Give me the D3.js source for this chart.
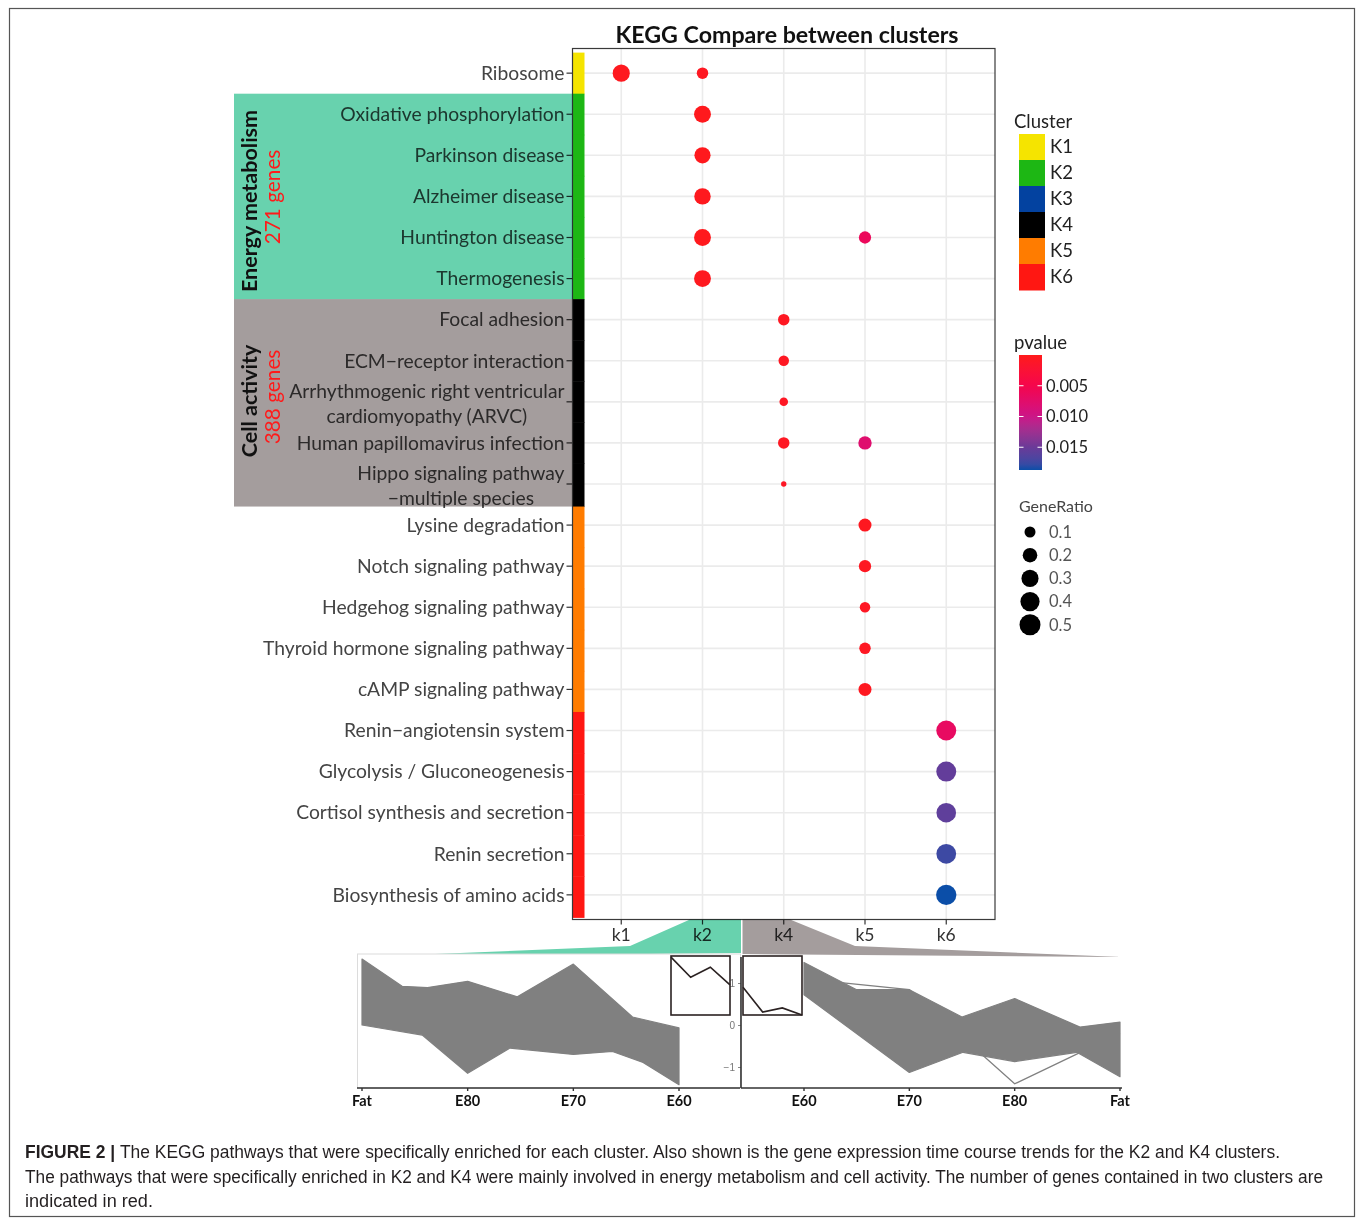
<!DOCTYPE html>
<html>
<head>
<meta charset="utf-8">
<script src="https://cdn.jsdelivr.net/npm/d3@7"></script>
<style>
  body { margin: 0; background: #fff; }
  text { font-family: Lato, "Open Sans", sans-serif; }
  .blend { mix-blend-mode: multiply; }
</style>
</head>
<body>
<svg id="fig" width="1357" height="1219"></svg>
<script>
// ---- data ----
const pathways = [
  "Ribosome",
  "Oxidative phosphorylation",
  "Parkinson disease",
  "Alzheimer disease",
  "Huntington disease",
  "Thermogenesis",
  "Focal adhesion",
  "ECM\u2212receptor interaction",
  "Arrhythmogenic right ventricular\ncardiomyopathy (ARVC)",
  "Human papillomavirus infection",
  "Hippo signaling pathway\n\u2212multiple species",
  "Lysine degradation",
  "Notch signaling pathway",
  "Hedgehog signaling pathway",
  "Thyroid hormone signaling pathway",
  "cAMP signaling pathway",
  "Renin\u2212angiotensin system",
  "Glycolysis / Gluconeogenesis",
  "Cortisol synthesis and secretion",
  "Renin secretion",
  "Biosynthesis of amino acids"
];
const pathwayCluster = ["K1","K2","K2","K2","K2","K2","K4","K4","K4","K4","K4",
                        "K5","K5","K5","K5","K5","K6","K6","K6","K6","K6"];
const clusterNames = ["K1","K2","K3","K4","K5","K6"];
const clusterColors = ["#f5e400","#1db714","#0342a0","#000000","#ff7c00","#ff1712"];
const xCategories = ["k1","k2","k4","k5","k6"];

const dotPathway = [0,0,1,2,3,4,4,5,6,7,8,9,9,10,11,12,13,14,15,16,17,18,19,20];
const dotCluster = ["k1","k2","k2","k2","k2","k2","k5","k2","k4","k4","k4","k4","k5","k4",
                    "k5","k5","k5","k5","k5","k6","k6","k6","k6","k6"];
const dotGeneRatio = [0.30,0.11,0.29,0.26,0.27,0.29,0.13,0.29,0.11,0.09,0.06,0.11,0.16,0.041,
                      0.15,0.13,0.09,0.11,0.15,0.44,0.44,0.42,0.43,0.46];
const dotPvalue = [0.0004,0.0006,0.0002,0.0002,0.0003,0.0002,0.0062,0.0004,0.0006,0.0007,0.0008,0.0007,0.0078,0.0009,
                   0.0005,0.0006,0.0008,0.0007,0.0005,0.0067,0.0155,0.0157,0.0175,0.0187];

const pStops = [0, 0.005, 0.010, 0.015, 0.0187];
const pColors = ["#ff1a1a","#f5054c","#cc1488","#6a3a98","#0b4ea8"];
const pvalueBreaks = [0.005, 0.010, 0.015];
const geneRatioBreaks = [0.1, 0.2, 0.3, 0.4, 0.5];

const groupNames = ["Energy metabolism", "Cell activity"];
const groupGenes = ["271 genes", "388 genes"];
const groupRows = [[1, 5], [6, 10]];

// expression trends (envelope of the line bundle: [time index, z-score])
const k2Times = ["Fat","E80","E70","E60"];
const k2Top = [[0,1.57],[0.38,0.92],[0.62,0.89],[1,1.04],[1.47,0.67],[2,1.45],[2.56,0.19],[3,-0.07]];
const k2Bottom = [[0,0.0],[0.57,-0.24],[1,-1.15],[1.4,-0.55],[2,-0.70],[2.37,-0.63],[2.66,-0.89],[3,-1.42]];
const k2Profile = [0.98, 0.64, 0.81, 0.51];

const k4Times = ["E60","E70","E80","Fat"];
const k4Top = [[0,1.49],[0.5,0.84],[1,0.84],[1.5,0.19],[2,0.63],[2.62,-0.05],[3,0.07]];
const k4Bottom = [[0,0.72],[1,-1.13],[1.51,-0.65],[2,-0.87],[2.59,-0.65],[3,-1.23]];
const k4Outliers = [[1.1, 0.84, -1.4, -0.2]];
const k4Profile = [0.47, 0.05, 0.12, 0.0];

const captionLines = [
  ["FIGURE 2 | ", "The KEGG pathways that were specifically enriched for each cluster. Also shown is the gene expression time course trends for the K2 and K4 clusters."],
  ["", "The pathways that were specifically enriched in K2 and K4 were mainly involved in energy metabolism and cell activity. The number of genes contained in two clusters are"],
  ["", "indicated in red."]
];

// ---- layout ----
const svg = d3.select("#fig");
const panel = {left: 572.5, right: 995, top: 48.5, bottom: 919.5};
const greenFill = "#68d2ae", greyFill = "#a49d9d";

svg.append("rect").attr("width", 1357).attr("height", 1219).attr("fill", "#fff");
svg.append("rect").attr("x", 9.5).attr("y", 8.5).attr("width", 1345).attr("height", 1208)
  .attr("fill", "none").attr("stroke", "#555").attr("stroke-width", 1.2);

const x = d3.scalePoint().domain(xCategories).range([panel.left, panel.right]).padding(0.6);
const y = d3.scalePoint().domain(d3.range(pathways.length)).range([panel.top, panel.bottom]).padding(0.6);
const step = y.step();

const pColor = d3.scaleLinear().domain(pStops).range(pColors).interpolate(d3.interpolateLab);
const sizeT = d3.scaleLinear().domain([0.041, 0.52]).range([0, 1]).clamp(true);
const sizeR = d3.scaleSqrt().domain([0, 1]).range([2.7, 10.67]);
const radius = v => sizeR(sizeT(v));

// title
svg.append("text").attr("x", 787).attr("y", 43).attr("text-anchor", "middle")
  .attr("font-size", 23.2).attr("font-weight", 700).attr("fill", "#111")
  .text("KEGG Compare between clusters");

// panel + grid
svg.append("rect").attr("x", panel.left).attr("y", panel.top)
  .attr("width", panel.right - panel.left).attr("height", panel.bottom - panel.top).attr("fill", "#fff");
const grid = svg.append("g").attr("stroke", "#ebebeb").attr("stroke-width", 1.6);
grid.selectAll(".gv").data(xCategories).enter().append("line")
  .attr("x1", d => x(d)).attr("x2", d => x(d)).attr("y1", panel.top).attr("y2", panel.bottom);
grid.selectAll(".gh").data(d3.range(pathways.length)).enter().append("line")
  .attr("x1", panel.left).attr("x2", panel.right).attr("y1", d => y(d)).attr("y2", d => y(d));

// cluster colour strip
const clusterColor = d3.scaleOrdinal().domain(clusterNames).range(clusterColors);
svg.append("g").selectAll("rect").data(pathwayCluster).enter().append("rect")
  .attr("x", panel.left).attr("width", 12)
  .attr("y", (d, i) => y(i) - step / 2 + (i > 10 ? 2 : 0))
  .attr("height", (d, i) => step + 0.5 + (i === 10 ? 2 : 0))
  .attr("fill", d => clusterColor(d));

// dots
svg.append("g").selectAll("circle").data(dotPathway).enter().append("circle")
  .attr("cx", (d, i) => x(dotCluster[i]))
  .attr("cy", d => y(d))
  .attr("r", (d, i) => radius(dotGeneRatio[i]))
  .attr("fill", (d, i) => pColor(dotPvalue[i]));

svg.append("rect").attr("x", panel.left).attr("y", panel.top)
  .attr("width", panel.right - panel.left).attr("height", panel.bottom - panel.top)
  .attr("fill", "none").attr("stroke", "#3a3a3a").attr("stroke-width", 1.2);

// y axis
const yAxis = svg.append("g");
pathways.forEach((name, i) => {
  yAxis.append("line").attr("x1", panel.left - 6).attr("x2", panel.left)
    .attr("y1", y(i)).attr("y2", y(i)).attr("stroke", "#333").attr("stroke-width", 1.2);
  const lines = name.split("\n");
  const t = yAxis.append("text").attr("font-size", 19.3).attr("fill", "#444");
  if (lines.length === 1) {
    t.attr("x", panel.left - 8).attr("y", y(i)).attr("dy", "0.35em")
      .attr("text-anchor", "end").text(name);
  } else {
    t.attr("text-anchor", "middle");
    const spans = lines.map((l, j) => t.append("tspan").attr("y", y(i) + (j - 0.5) * 25 + 1.5)
      .attr("dy", "0.35em").text(l));
    const wMax = d3.max(spans, s => s.node().getComputedTextLength());
    spans.forEach(s => s.attr("x", panel.left - 8 - wMax / 2));
  }
});

// x axis
const xAxis = svg.append("g");
xCategories.forEach(k => {
  xAxis.append("line").attr("x1", x(k)).attr("x2", x(k)).attr("y1", panel.bottom).attr("y2", panel.bottom + 5)
    .attr("stroke", "#333").attr("stroke-width", 1.2);
  xAxis.append("text").attr("x", x(k)).attr("y", panel.bottom + 15).attr("dy", "0.35em")
    .attr("text-anchor", "middle").attr("font-size", 17.5).attr("fill", "#333").text(k);
});

// group highlight boxes (multiplied over the labels)
groupRows.forEach((r, g) => {
  svg.append("rect").attr("class", "blend")
    .attr("x", 234).attr("width", panel.left - 234)
    .attr("y", y(r[0]) - step / 2).attr("height", y(r[1]) - y(r[0]) + step + (g === 1 ? 2 : 0))
    .attr("fill", g === 0 ? greenFill : greyFill);
});
const groupLabelY = [201, 401];
groupNames.forEach((name, g) => {
  svg.append("text").attr("transform", `translate(249,${groupLabelY[g]}) rotate(-90)`)
    .attr("text-anchor", "middle").attr("dy", "0.35em")
    .attr("font-size", 21.5).attr("font-weight", 700).attr("fill", "#111").text(name);
  svg.append("text").attr("transform", `translate(273,${groupLabelY[g] - 4}) rotate(-90)`)
    .attr("text-anchor", "middle").attr("dy", "0.35em")
    .attr("font-size", 20.8).attr("fill", "#ff1a1a").text(groupGenes[g]);
});

// connector wedges from the k2 / k4 columns to the trend charts
const wedge = d3.line();
svg.append("path").attr("class", "blend").attr("fill", greenFill)
  .attr("d", wedge([[360, 957], [630, 946], [690, panel.bottom], [741, panel.bottom], [741, 953]]) + "Z");
svg.append("path").attr("class", "blend").attr("fill", greyFill)
  .attr("d", wedge([[742.5, panel.bottom], [790, panel.bottom], [855, 946], [1122, 957], [742.5, 954]]) + "Z");

// ---- trend charts ----
const yLine = d3.scaleLinear().domain([-1, 1]).range([1067, 983]);
const xLeft = d3.scaleLinear().domain([0, 3]).range([362, 679]);
const xRight = d3.scaleLinear().domain([0, 3]).range([804, 1120]);
const axisY = 1088;

svg.append("rect").attr("x", 357.5).attr("y", 954).attr("width", 383).attr("height", axisY - 954)
  .attr("fill", "#fff").attr("stroke", "#dcdcdc").attr("stroke-width", 1);

function drawBundle(xs, top, bottom, outliers) {
  const env = d3.line().x(d => xs(d[0])).y(d => yLine(d[1])).curve(d3.curveLinearClosed);
  svg.append("path").attr("d", env(top.concat(bottom.slice().reverse())))
    .attr("fill", "#808080").attr("stroke", "#808080").attr("stroke-width", 1.2)
    .attr("stroke-linejoin", "round");
  const ln = d3.line().x((d, i) => xs(i)).y(d => yLine(d));
  (outliers || []).forEach(o => {
    svg.append("path").attr("d", ln(o)).attr("fill", "none")
      .attr("stroke", "#808080").attr("stroke-width", 1.3);
  });
}
drawBundle(xLeft, k2Top, k2Bottom, []);
drawBundle(xRight, k4Top, k4Bottom, k4Outliers);

function drawTimeAxis(xs, labels, x0, x1) {
  const g = svg.append("g");
  g.append("line").attr("x1", x0).attr("x2", x1).attr("y1", axisY).attr("y2", axisY)
    .attr("stroke", "#333").attr("stroke-width", 1.6);
  labels.forEach((l, i) => {
    g.append("line").attr("x1", xs(i)).attr("x2", xs(i)).attr("y1", axisY).attr("y2", axisY + 3)
      .attr("stroke", "#333").attr("stroke-width", 1.4);
    g.append("text").attr("x", xs(i)).attr("y", axisY + 18).attr("text-anchor", "middle")
      .attr("font-size", 14.5).attr("font-weight", 700).attr("fill", "#111").text(l);
  });
}
drawTimeAxis(xLeft, k2Times, 357, 740);
drawTimeAxis(xRight, k4Times, 741, 1122);

// y axis of right trend chart
const yAx = svg.append("g").attr("transform", "translate(741,0)")
  .call(d3.axisLeft(yLine).tickValues([-1, 0, 1]).tickSize(3).tickPadding(3).tickFormat(d3.format("d")));
yAx.select(".domain").remove();
yAx.selectAll(".tick line").attr("stroke", "#888");
yAx.selectAll(".tick text").attr("font-size", 10).attr("fill", "#777")
  .style("font-family", "'Liberation Sans', sans-serif");
svg.append("line").attr("x1", 741).attr("x2", 741).attr("y1", 957).attr("y2", axisY)
  .attr("stroke", "#333").attr("stroke-width", 1.6);

// mean profile insets
function drawInset(x0, profile) {
  const ix = d3.scaleLinear().domain([0, 3]).range([x0, x0 + 59]);
  const iy = d3.scaleLinear().domain([0, 1]).range([1015, 956]);
  svg.append("rect").attr("x", x0).attr("y", 956).attr("width", 59).attr("height", 59)
    .attr("fill", "#fff").attr("stroke", "#2b2222").attr("stroke-width", 1.6);
  svg.append("path").attr("d", d3.line().x((d, i) => ix(i)).y(d => iy(d))(profile))
    .attr("fill", "none").attr("stroke", "#2b2222").attr("stroke-width", 1.6);
}
drawInset(671, k2Profile);
drawInset(743, k4Profile);

// ---- legends ----
const lg = svg.append("g");
lg.append("text").attr("x", 1014).attr("y", 122).attr("dy", "0.35em").attr("font-size", 18.5).attr("fill", "#222").text("Cluster");
clusterNames.forEach((c, i) => {
  lg.append("rect").attr("x", 1019).attr("y", 134 + i * 26).attr("width", 26).attr("height", 26.5)
    .attr("fill", clusterColor(c));
  lg.append("text").attr("x", 1050).attr("y", 147 + i * 26).attr("dy", "0.35em")
    .attr("font-size", 18.5).attr("fill", "#222").text(c);
});

const pMin = pStops[0], pMax = pStops[pStops.length - 1];
const barY = d3.scaleLinear().domain([pMin, pMax]).range([355, 470]);
const grad = svg.append("defs").append("linearGradient").attr("id", "pgrad")
  .attr("x1", 0).attr("x2", 0).attr("y1", 0).attr("y2", 1);
d3.range(0, 1.0001, 0.05).forEach(t => {
  const p = pMin + t * (pMax - pMin);
  grad.append("stop").attr("offset", t).attr("stop-color", pColor(p));
});
lg.append("text").attr("x", 1014).attr("y", 343).attr("dy", "0.35em").attr("font-size", 18.5).attr("fill", "#222").text("pvalue");
lg.append("rect").attr("x", 1019).attr("y", barY(pMin)).attr("width", 23).attr("height", barY(pMax) - barY(pMin))
  .attr("fill", "url(#pgrad)");
pvalueBreaks.forEach(b => {
  lg.append("line").attr("x1", 1019).attr("x2", 1023.5).attr("y1", barY(b)).attr("y2", barY(b)).attr("stroke", "#fff").attr("stroke-width", 1);
  lg.append("line").attr("x1", 1037.5).attr("x2", 1042).attr("y1", barY(b)).attr("y2", barY(b)).attr("stroke", "#fff").attr("stroke-width", 1);
  lg.append("text").attr("x", 1046).attr("y", barY(b)).attr("dy", "0.35em").attr("font-size", 16.5)
    .attr("fill", "#222").text(d3.format(".3f")(b));
});

lg.append("text").attr("x", 1019).attr("y", 506).attr("dy", "0.35em").attr("font-size", 16).attr("fill", "#444").text("GeneRatio");
geneRatioBreaks.forEach((b, i) => {
  const cy = 532 + i * 23.2;
  lg.append("circle").attr("cx", 1030).attr("cy", cy).attr("r", radius(b)).attr("fill", "#000");
  lg.append("text").attr("x", 1049).attr("y", cy).attr("dy", "0.35em").attr("font-size", 16.5)
    .attr("fill", "#555").text(d3.format(".1f")(b));
});

// ---- caption ----
const capWidths = [1255, 1298, 128];
captionLines.forEach((parts, i) => {
  const t = svg.append("text").attr("x", 25).attr("y", 1158 + i * 24.5)
    .style("font-family", "'Liberation Sans Narrow', 'Liberation Sans', Arial, sans-serif")
    .attr("font-size", 17.5).attr("fill", "#231f20")
    .attr("textLength", capWidths[i]).attr("lengthAdjust", "spacingAndGlyphs");
  if (parts[0]) t.append("tspan").attr("font-weight", 700).text(parts[0]);
  t.append("tspan").text(parts[1]);
});
</script>
</body>
</html>
